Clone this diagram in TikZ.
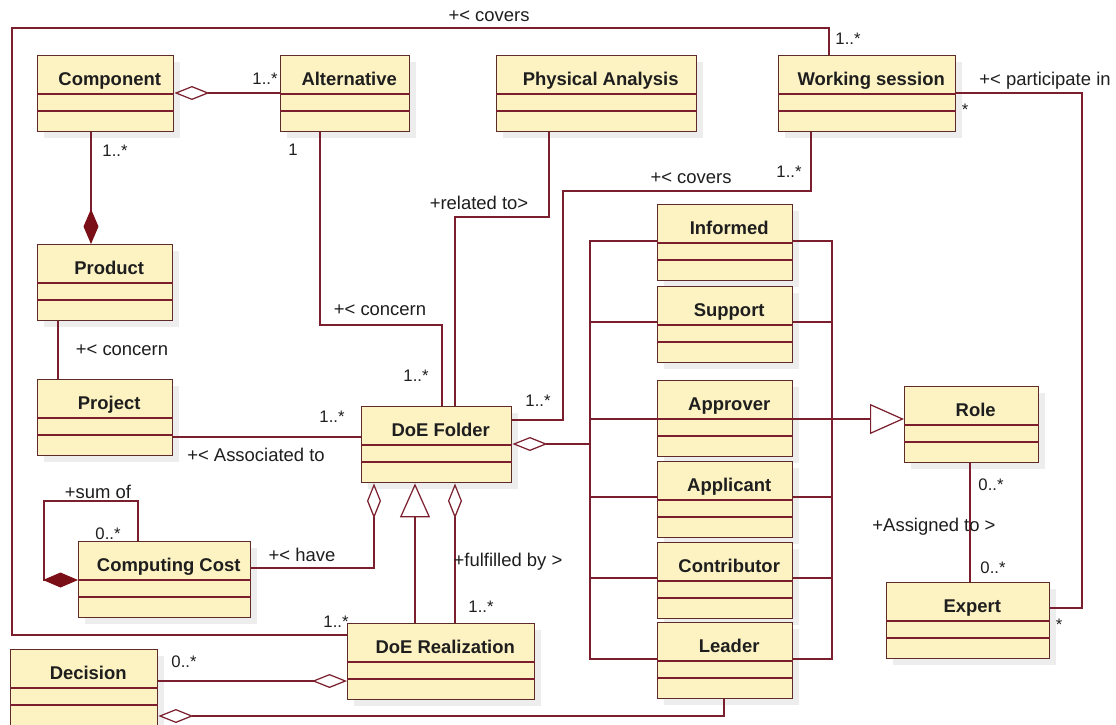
\documentclass[tikz,border=0pt]{standalone}
\usepackage{fontspec}
\setmainfont{Liberation Sans}
\usepackage{xcolor}
\usetikzlibrary{arrows.meta,positioning,calc,shadows}
\definecolor{umlfill}{HTML}{FCF2C2}
\definecolor{umlborder}{HTML}{5E2A2A}
\definecolor{umlline}{HTML}{7B1F2E}
\definecolor{umltext}{HTML}{1E1E1E}
\definecolor{umlcompo}{HTML}{7B0F17}
\tikzset{
  classbox/.style={
    rectangle, draw=umlborder, fill=umlfill, line width=0.8pt,
    inner sep=0pt, anchor=north west, minimum height=1.52cm,
    drop shadow={shadow xshift=0.12cm, shadow yshift=-0.12cm,
      fill=black!7, opacity=1}
  },
  classname/.style={
    font=\fontsize{10.5}{12}\selectfont\bfseries, text=umltext,
    anchor=base, inner sep=0pt
  },
  divider/.style={draw=umlline, line width=0.8pt},
  assoc/.style={draw=umlline, line width=0.7pt},
  aggr/.style={assoc, -{Diamond[open, length=0.7cm, width=0.28cm]}},
  compo/.style={assoc, -{Diamond[length=0.7cm, width=0.3cm, fill=umlcompo, color=umlcompo]}},
  gener/.style={assoc, -{Triangle[open, length=0.68cm, width=0.6cm]}},
  asslabel/.style={font=\fontsize{10.5}{12}\selectfont, text=umltext, inner sep=0pt},
  multlabel/.style={font=\fontsize{9.5}{11}\selectfont, text=umltext, inner sep=0pt},
}
% class box: name, x, y (top left, px), width (px), title
\newcommand{\umlclass}[5]{%
  \node[classbox, minimum width=#4*0.02cm] (#1) at (#2,#3) {};
  \node[classname] (#1-t) at ($(#1.north)+(4,30)$) {#5};
  \draw[divider] ($(#1.north west)+(0,39)$) -- ($(#1.north east)+(0,39)$)
                 ($(#1.north west)+(0,56)$) -- ($(#1.north east)+(0,56)$);
}

\begin{document}
\begin{tikzpicture}[x=0.02cm, y=-0.02cm]
\useasboundingbox[fill=white] (0,0) rectangle (1116,724);

% classes
\umlclass{Component}{37}{55}{136}{Component}
\umlclass{Alternative}{280}{55}{129}{Alternative}
\umlclass{PhysAnalysis}{496}{55}{200}{Physical Analysis}
\umlclass{WorkSession}{778}{55}{177}{Working session}
\umlclass{Product}{37}{244}{135}{Product}
\umlclass{Project}{37}{379}{135}{Project}
\umlclass{DoEFolder}{361}{406}{150}{DoE Folder}
\umlclass{CompCost}{78}{541}{172}{Computing Cost}
\umlclass{DoERealiz}{347}{623}{187}{DoE Realization}
\umlclass{Decision}{10}{649}{147}{Decision}
\umlclass{Informed}{657}{204}{135}{Informed}
\umlclass{Support}{657}{286}{135}{Support}
\umlclass{Approver}{657}{380}{135}{Approver}
\umlclass{Applicant}{657}{461}{135}{Applicant}
\umlclass{Contributor}{657}{542}{135}{Contributor}
\umlclass{Leader}{657}{622}{135}{Leader}
\umlclass{Role}{904}{386}{134}{Role}
\umlclass{Expert}{886}{582}{163}{Expert}

% bus joints
\coordinate (lbus) at (590,444);
\coordinate (rbus) at (832,419);

% connectors
\draw[aggr] (Alternative.west |- 0,93) -- (Component.east |- 0,93);
\draw[compo] (Component.south -| 91,0) -- (Product.north -| 91,0);
\draw[assoc] (Product.south -| 58,0) -- (Project.north -| 58,0);
\draw[assoc] (Alternative.south -| 320,0) |- (442,325) -- (DoEFolder.north -| 442,0);
\draw[assoc] (PhysAnalysis.south -| 549,0) |- (455,217) -- (DoEFolder.north -| 455,0);
\draw[assoc] (WorkSession.south -| 811,0) |- (563,191) |- (DoEFolder.east |- 0,420);
\draw[assoc] (WorkSession.north -| 829,0) |- (12,28) |- (DoERealiz.west |- 0,635);
\draw[assoc] (WorkSession.east |- 0,93) -| (1082,608) -- (Expert.east |- 0,608);
\draw[assoc] (Project.east |- 0,437) -- (DoEFolder.west |- 0,437);
\draw[compo] (CompCost.north -| 138,0) |- (44,501) -- (44,580) -- (CompCost.west |- 0,580);
\draw[aggr] (CompCost.east |- 0,568) -| (DoEFolder.south -| 374,0);
\draw[gener] (DoERealiz.north -| 415,0) -- (DoEFolder.south -| 415,0);
\draw[aggr] (DoERealiz.north -| 455,0) -- (DoEFolder.south -| 455,0);
\draw[aggr] (Decision.east |- 0,681) -- (DoERealiz.west |- 0,681);
\draw[aggr] (Leader.south -| 724,0) |- (Decision.east |- 0,716);
\draw[assoc] (Role.south -| 970,0) -- (Expert.north -| 970,0);

% role buses
\draw[aggr] (lbus) -- (DoEFolder.east |- lbus);
\draw[assoc] (Informed.west |- 0,241) -| (lbus |- 0,659) -- (Leader.west |- 0,659);
\draw[assoc] (Informed.east |- 0,241) -| (rbus |- 0,659) -- (Leader.east |- 0,659);
\foreach \r/\yy in {Support/322, Approver/419, Applicant/497, Contributor/578}{
  \draw[assoc] (\r.west |- 0,\yy) -- (lbus |- 0,\yy);
  \draw[assoc] (\r.east |- 0,\yy) -- (rbus |- 0,\yy);
}
\draw[gener] (rbus) -- (Role.west |- rbus);

% association names
\node[asslabel] (lCovTop) at (489,16) {+< covers};
\node[asslabel] (lPart) at (1045,81) {+< participate in};
\node[asslabel] (lRel) at (479,203) {+related to>};
\node[asslabel] (lCovMid) at (691,178) {+< covers};
\node[asslabel] (lConcA) at (380,310) {+< concern};
\node[asslabel] (lConcP) at (122,350) {+< concern};
\node[asslabel] (lAssoc) at (256,455) {+< Associated to};
\node[asslabel] (lSum) at (98,492) {+sum of};
\node[asslabel] (lHave) at (302,555) {+< have};
\node[asslabel] (lFulf) at (508,562) {+fulfilled by >};
\node[asslabel] (lAssign) at (934,527) {+Assigned to >};

% multiplicities
\node[multlabel] (mWsTop) at (848,39) {1..*};
\node[multlabel] (mWsRight) at (965,110) {*};
\node[multlabel] (mAlt) at (265,79) {1..*};
\node[multlabel] (mComp) at (115,151) {1..*};
\node[multlabel] (mAltOne) at (293,150) {1};
\node[multlabel] (mWsBot) at (789,172) {1..*};
\node[multlabel] (mFolTop) at (416,376) {1..*};
\node[multlabel] (mFolRight) at (538,401) {1..*};
\node[multlabel] (mFolLeft) at (332,417) {1..*};
\node[multlabel] (mCost) at (108,534) {0..*};
\node[multlabel] (mRealLeft) at (336,622) {1..*};
\node[multlabel] (mDec) at (184,662) {0..*};
\node[multlabel] (mRealTop) at (481,607) {1..*};
\node[multlabel] (mRole) at (991,485) {0..*};
\node[multlabel] (mExpTop) at (993,568) {0..*};
\node[multlabel] (mExpRight) at (1059,625) {*};
\end{tikzpicture}
\end{document}
